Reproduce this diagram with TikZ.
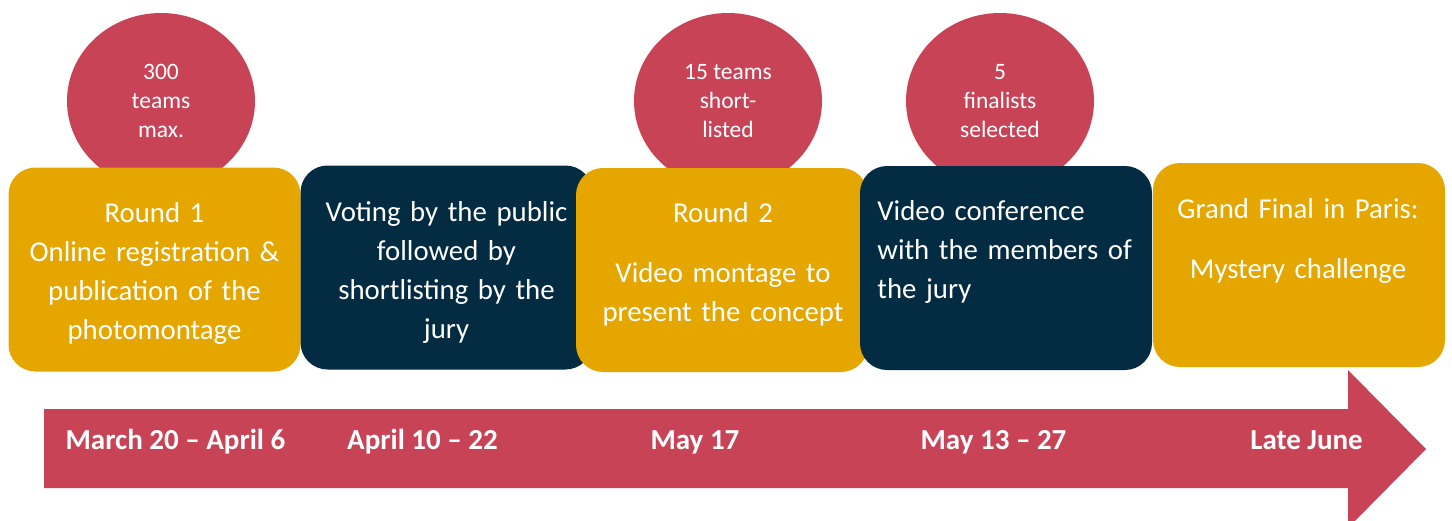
\documentclass[tikz,border=0pt]{standalone}
\usepackage{fontspec}
\setmainfont{Carlito}
\usetikzlibrary{shapes.geometric}
\definecolor{bubblered}{RGB}{201,67,87}
\definecolor{stagegold}{RGB}{229,166,0}
\definecolor{stagenavy}{RGB}{3,43,65}

\begin{document}
\begin{tikzpicture}[x=0.5pt, y=-0.5pt,
	bubble/.style={ellipse, fill=bubblered, text=white, minimum width=94pt, minimum height=88pt, inner sep=0pt, align=center, font=\fontsize{11.75}{14.65}\selectfont},
	stage/.style={rounded corners=13.5pt, minimum width=146pt, minimum height=102pt, inner sep=0pt},
	stagetext/.style={text=white, inner sep=0pt, text width=140pt, align=center, anchor=base, font=\fontsize{14.4}{19.5}\selectfont},
	datetext/.style={text=white, inner sep=0pt, anchor=base, font=\fontsize{14.5}{17}\selectfont\bfseries}]
	\useasboundingbox (0,0) rectangle (1452,520);
	
	%bubbles behind the stages
	\node (c1) at (161,101) [bubble]{300\\teams\\max.};
	\node (c2) at (728,101) [bubble]{15 teams\\short-\\listed};
	\node (c3) at (1000,101) [bubble]{5\\finalists\\selected};
	
	%stages
	\node (s1) at (154.5,269.5) [stage, fill=stagegold]{};
	\node (s2) at (446.5,267.5) [stage, fill=stagenavy]{};
	\node (s3) at (722,270) [stage, fill=stagegold]{};
	\node (s4) at (1006,268) [stage, fill=stagenavy]{};
	\node (s5) at (1299,265) [stage, fill=stagegold]{};
	
	\node (t1) at (154.5,222.7) [stagetext]{Round 1\\Online registration \&\\publication of the\\photomontage};
	\node (t2) at (446.5,221) [stagetext]{Voting by the public\\followed by\\shortlisting by the\\jury};
	\node (t3) at (723,222.7) [stagetext]{Round 2\\[10.5pt]Video montage to\\present the concept};
	\node (t4) at (877,220.7) [stagetext, text width=135pt, align=left, anchor=base west]{Video conference\\with the members of\\the jury};
	\node (t5) at (1298,218.3) [stagetext]{Grand Final in Paris:\\[10.5pt]Mystery challenge};
	
	%timeline arrow
	\fill[bubblered] (44,409) -- (1348,409) -- (1348,370) -- (1426,449) -- (1348,528) -- (1348,488) -- (44,488) -- cycle;
	
	\foreach \x/\d [count=\i] in {175.5/March 20 -- April 6, 422.5/April 10 -- 22, 695/May 17, 993.5/May 13 -- 27, 1306.5/Late June}{
		\node (d\i) at (\x,449) [datetext]{\d};
	}
\end{tikzpicture}
\end{document}
